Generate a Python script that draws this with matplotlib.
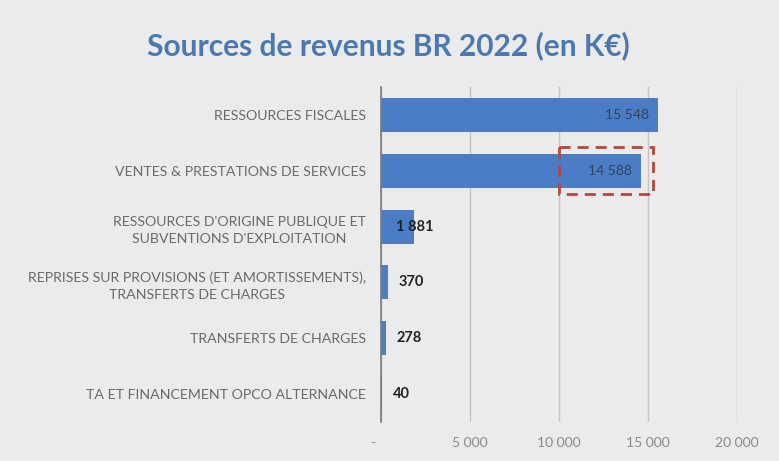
import matplotlib
matplotlib.use("Agg")
import matplotlib.pyplot as plt
from matplotlib.patches import Rectangle

categories = [
    "RESSOURCES FISCALES",
    "VENTES & PRESTATIONS DE SERVICES",
    "RESSOURCES D'ORIGINE PUBLIQUE ET\nSUBVENTIONS D'EXPLOITATION",
    "REPRISES SUR PROVISIONS (ET AMORTISSEMENTS),\nTRANSFERTS DE CHARGES",
    "TRANSFERTS DE CHARGES",
    "TA ET FINANCEMENT OPCO ALTERNANCE",
]
values = [15548, 14588, 1881, 370, 278, 40]
value_labels = ["15 548", "14 588", "1 881", "370", "278", "40"]
xticks = [0, 5000, 10000, 15000, 20000]
xtick_labels = ["-    ", "5 000", "10 000", "15 000", "20 000"]

plt.rcParams['font.family'] = ['Lato', 'DejaVu Sans']

bg = "#ebebeb"
fig = plt.figure(figsize=(7.79, 4.61), dpi=100, facecolor=bg)
ax = fig.add_axes([0.489, 0.085, 0.457, 0.726])
ax.set_facecolor(bg)

ypos = list(range(len(categories)))
ax.barh(ypos, values, height=0.61, color="#4b7cc6", zorder=3)

ax.set_xlim(0, 20000)
ax.set_ylim(len(categories) - 0.5, -0.5)

ax.set_xticks(xticks)
ax.set_xticklabels(xtick_labels, fontsize=10, color="#8a8a8a")
ax.set_yticks(ypos)
ax.set_yticklabels(categories, fontsize=10.2, color="#6a6a6a")
for t in ax.get_yticklabels():
    t.set_multialignment("center")
    t.set_linespacing(1.55)
ax.tick_params(axis="both", length=0)
ax.tick_params(axis="y", pad=11)
ax.tick_params(axis="x", pad=11)

ax.grid(axis="x", color="#c4c4c4", linewidth=1, zorder=0)
for s in ["top", "right", "bottom"]:
    ax.spines[s].set_visible(False)
ax.spines["left"].set_color("#7a7a7a")
ax.spines["left"].set_linewidth(1.2)
ax.spines["left"].set_zorder(4)

for i, (v, lab) in enumerate(zip(values, value_labels)):
    if v > 5000:
        ax.text(v - 500, i, lab, ha="right", va="center", fontsize=10,
                color="#34425c", zorder=5)
    elif v > 1000:
        ax.text(v, i, lab, ha="center", va="center", fontsize=10.5,
                color="#222222", fontweight="bold", zorder=5)
    else:
        ax.annotate(lab, (v, i), xytext=(8, 0), textcoords="offset points",
                    ha="left", va="center", fontsize=10.5, color="#222222",
                    fontweight="bold", zorder=5)

# dashed highlight around the second bar's end
ax.add_patch(Rectangle((10000, 1 - 0.42), 5300, 0.84, fill=False,
                       edgecolor="#b5473c", linestyle=(0, (4, 2.5)),
                       linewidth=2, zorder=6, clip_on=False))

fig.text(0.498, 0.902, "Sources de revenus BR 2022 (en K€)", ha="center",
         va="center", fontsize=21.5, fontweight="bold", color="#4a78b4")

fig.savefig("out.png", dpi=100, facecolor=bg)
